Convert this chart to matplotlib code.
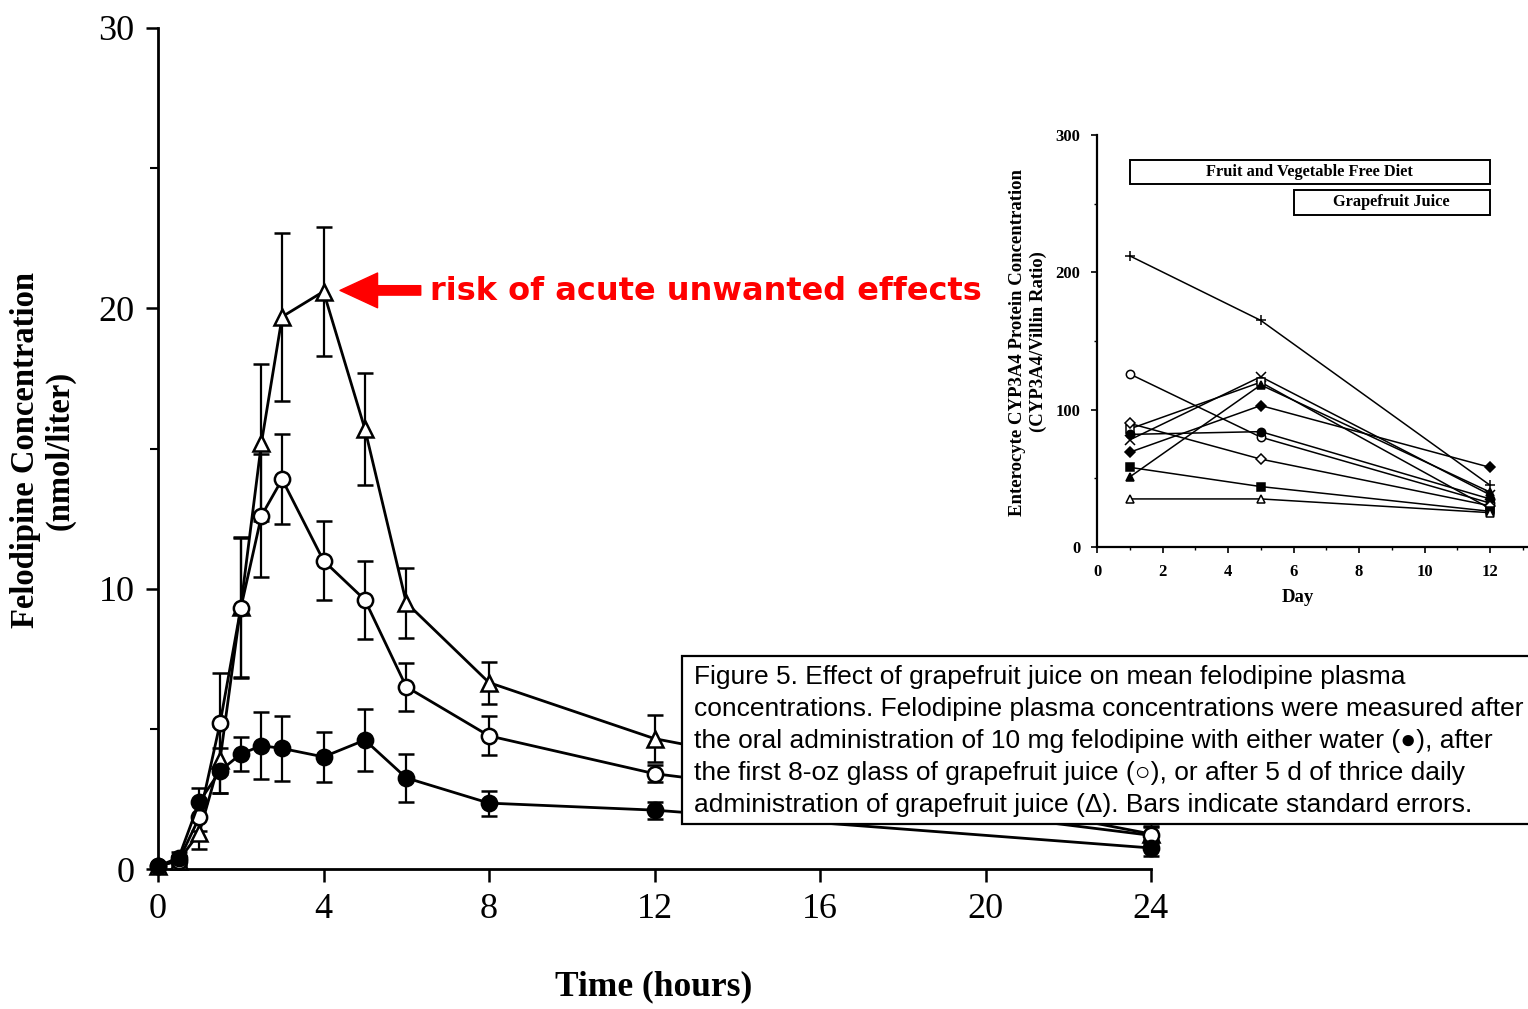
import numpy as np
import matplotlib
matplotlib.use("Agg")
import matplotlib.pyplot as plt
from matplotlib.patches import Rectangle
from matplotlib.ticker import MultipleLocator

# ---- main chart data (felodipine plasma concentration, nmol/liter) ----
hours = [0, 0.5, 1, 1.5, 2, 2.5, 3, 4, 5, 6, 8, 12, 24]
water = [0.1, 0.4, 2.4, 3.5, 4.1, 4.4, 4.3, 4.0, 4.6, 3.25, 2.35, 2.1, 0.75]
water_se = [0.05, 0.2, 0.5, 0.8, 0.6, 1.2, 1.15, 0.9, 1.1, 0.85, 0.45, 0.3, 0.3]
gfj_first = [0.1, 0.3, 1.85, 5.2, 9.3, 12.6, 13.9, 11.0, 9.6, 6.5, 4.75, 3.4, 1.2]
gfj_first_se = [0.05, 0.15, 0.5, 1.8, 2.5, 2.2, 1.6, 1.4, 1.4, 0.85, 0.7, 0.3, 0.3]
gfj_5d = [0.1, 0.3, 1.3, 3.9, 9.35, 15.2, 19.7, 20.6, 15.7, 9.5, 6.65, 4.65, 1.25]
gfj_5d_se = [0.05, 0.15, 0.6, 1.2, 2.5, 2.8, 3.0, 2.3, 2.0, 1.25, 0.75, 0.85, 0.3]

# ---- inset data (enterocyte CYP3A4 / villin ratio) ----
days = [1, 5, 12]
inset_series = {
    "plus":      [212, 165, 45],
    "ocircle":   [126, 80, 32],
    "cross":     [78, 124, 38],
    "osquare":   [86, 120, 28],
    "ftriangle": [51, 118, 40],
    "fdiamond":  [69, 103, 58],
    "fcircle":   [82, 84, 35],
    "odiamond":  [90, 64, 30],
    "fsquare":   [58, 44, 26],
    "otriangle": [35, 35, 25],
}
inset_style = {
    "plus":      ("+", "k"),
    "ocircle":   ("o", "white"),
    "cross":     ("x", "k"),
    "osquare":   ("s", "white"),
    "ftriangle": ("^", "k"),
    "fdiamond":  ("D", "k"),
    "fcircle":   ("o", "k"),
    "odiamond":  ("D", "white"),
    "fsquare":   ("s", "k"),
    "otriangle": ("^", "white"),
}

caption_lines = [
    "Figure 5. Effect of grapefruit juice on mean felodipine plasma",
    "concentrations. Felodipine plasma concentrations were measured after",
    "the oral administration of 10 mg felodipine with either water (\u25cf), after",
    "the first 8-oz glass of grapefruit juice (\u25cb), or after 5 d of thrice daily",
    "administration of grapefruit juice (\u0394). Bars indicate standard errors.",
]

W, H = 1528, 1009
fig = plt.figure(figsize=(W / 100, H / 100), dpi=100)
serif = ["Liberation Serif", "DejaVu Serif"]
sans = ["Liberation Sans", "DejaVu Sans"]

# ---- main axes ----------------------------------------------------------
ax = fig.add_axes([158 / W, 1 - 869 / H, (1151 - 158) / W, (869 - 28) / H])
for y, e, mfc, mk in [(gfj_5d, gfj_5d_se, "white", "^"),
                      (gfj_first, gfj_first_se, "white", "o"),
                      (water, water_se, "k", "o")]:
    ax.errorbar(hours, y, yerr=e, color="k", lw=2.0, marker=mk, ms=11,
                mfc=mfc, mec="k", mew=1.8, capsize=5.5, elinewidth=1.6,
                capthick=1.6, clip_on=False, zorder=3)
ax.set_xlim(0, 24)
ax.set_ylim(0, 30)
ax.spines["top"].set_visible(False)
ax.spines["right"].set_visible(False)
ax.spines["left"].set_linewidth(2)
ax.spines["bottom"].set_linewidth(2)
ax.set_xticks(range(0, 25, 4))
ax.set_yticks([0, 10, 20, 30])
ax.yaxis.set_minor_locator(MultipleLocator(5))
ax.tick_params(axis="both", which="major", direction="out", length=9, width=1.8,
               labelsize=26, pad=8)
ax.tick_params(axis="y", which="minor", direction="out", length=6, width=1.5)
for lab in ax.get_xticklabels() + ax.get_yticklabels():
    lab.set_family(serif)

fig.text(43 / W, 1 - 450 / H, "Felodipine Concentration\n(nmol/liter)",
         rotation=90, ha="center", va="center", fontsize=23.5, fontweight="bold",
         family=serif, linespacing=1.15)
fig.text(654 / W, 1 - 987 / H, "Time (hours)", ha="center", va="center",
         fontsize=25.5, fontweight="bold", family=serif)

# red arrow + annotation
ax.annotate("", xy=(4.4, 20.64), xytext=(6.35, 20.64),
            arrowprops=dict(arrowstyle="simple,head_width=1.25,head_length=1.35,tail_width=0.34",
                            mutation_scale=20, color="red", shrinkA=0, shrinkB=0))
fig.text(430 / W, 1 - 291 / H, "risk of acute unwanted effects", color="red",
         fontsize=23, fontweight="bold", family=["DejaVu Sans"], ha="left",
         va="center")

# ---- inset --------------------------------------------------------------
ins = fig.add_axes([1097 / W, 1 - 547 / H, (W - 1097) / W, (547 - 135) / H])
for key, vals in inset_series.items():
    mk, fc = inset_style[key]
    ms = 7 if mk in ("+", "x") else 6
    if mk == "D":
        ms = 5.5
    ins.plot(days, vals, color="k", lw=1.1, marker=mk, ms=ms, mfc=fc, mec="k",
             mew=1.1, clip_on=False)
ins.set_xlim(0, (W - 1097) / 32.75)
ins.set_ylim(0, 300)
ins.spines["top"].set_visible(False)
ins.spines["right"].set_visible(False)
ins.spines["left"].set_linewidth(1.6)
ins.spines["bottom"].set_linewidth(1.6)
ins.set_xticks(range(0, 13, 2))
ins.set_yticks([0, 100, 200, 300])
ins.xaxis.set_minor_locator(MultipleLocator(1))
ins.yaxis.set_minor_locator(MultipleLocator(50))
ins.tick_params(axis="both", which="major", direction="out", length=4, width=1.2,
                labelsize=12, pad=8)
ins.tick_params(axis="both", which="minor", direction="out", length=2, width=1.0)
for lab in ins.get_xticklabels() + ins.get_yticklabels():
    lab.set_family(serif)
    lab.set_fontweight("bold")
fig.text(1298 / W, 1 - 597 / H, "Day", ha="center", va="center",
         fontsize=13.5, fontweight="bold", family=serif)
fig.text(1028 / W, 1 - 342 / H,
         "Enterocyte CYP3A4 Protein Concentration\n(CYP3A4/Villin Ratio)",
         rotation=90, ha="center", va="center", fontsize=13.5, fontweight="bold",
         family=serif, linespacing=1.3)
ins.add_patch(Rectangle((1, 264), 11, 18, fill=False, lw=1.4, ec="k",
                        clip_on=False))
ins.text(6.5, 273, "Fruit and Vegetable Free Diet", ha="center", va="center",
         fontsize=11.8, fontweight="bold", family=serif)
ins.add_patch(Rectangle((6, 242), 6, 18, fill=False, lw=1.4, ec="k",
                        clip_on=False))
ins.text(9, 251, "Grapefruit Juice", ha="center", va="center",
         fontsize=11.8, fontweight="bold", family=serif)

# ---- caption box --------------------------------------------------------
fig.patches.append(Rectangle((682 / W, 1 - 824 / H), (W - 682 + 20) / W,
                             (824 - 656) / H, transform=fig.transFigure,
                             facecolor="white", edgecolor="k", lw=1.6,
                             zorder=5))
for i, line in enumerate(caption_lines):
    fig.text(694 / W, 1 - (677 + 32 * i) / H, line, fontsize=19, family=sans,
             ha="left", va="center", zorder=6)

fig.savefig("out.png", dpi=100)
